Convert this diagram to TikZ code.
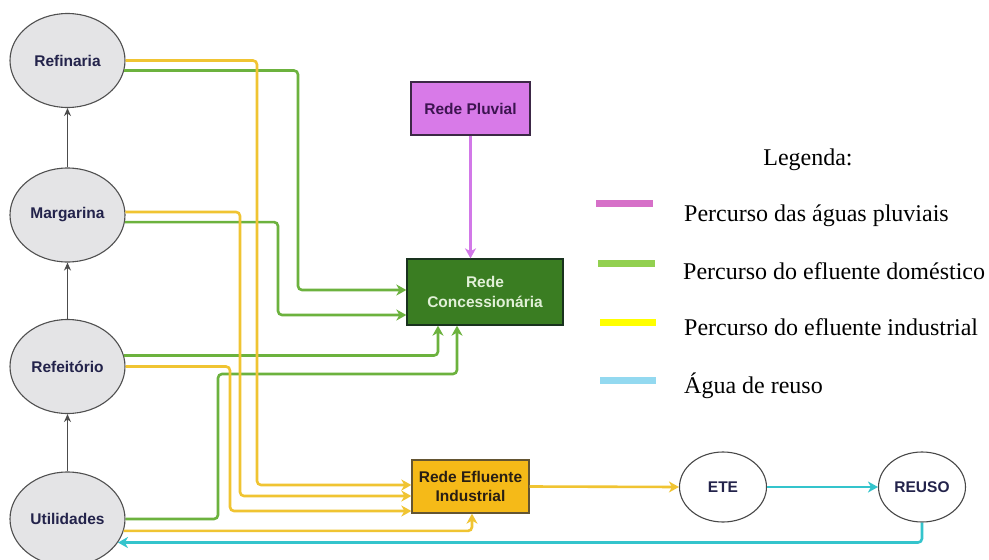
\documentclass[tikz,border=0pt]{standalone}
\usepackage{fontspec}
\setmainfont{Liberation Serif}
\newfontfamily\arialf{Liberation Sans}
\usetikzlibrary{arrows.meta,shapes.geometric,calc}
\definecolor{cyel}{RGB}{240,196,50}
\definecolor{cgrn}{RGB}{108,178,62}
\definecolor{cpnk}{RGB}{210,120,232}
\definecolor{ccyn}{RGB}{52,196,204}
\definecolor{pluvfill}{RGB}{216,122,232}
\definecolor{pluvdraw}{RGB}{60,40,70}
\definecolor{pluvtext}{RGB}{60,20,80}
\definecolor{concfill}{RGB}{58,125,34}
\definecolor{concdraw}{RGB}{25,50,30}
\definecolor{conctext}{RGB}{225,240,215}
\definecolor{eflfill}{RGB}{245,186,24}
\definecolor{efldraw}{RGB}{100,85,50}
\definecolor{efltext}{RGB}{40,30,20}
\definecolor{ellfill}{RGB}{228,228,230}
\definecolor{elldraw}{RGB}{80,80,80}
\definecolor{elltext}{RGB}{35,35,75}
\definecolor{legpnk}{RGB}{214,112,200}
\definecolor{leggrn}{RGB}{146,208,80}
\definecolor{legyel}{RGB}{255,255,0}
\definecolor{legblu}{RGB}{147,217,240}
\tikzset{
  site/.style={ellipse,draw=elldraw,line width=1.1pt,fill=ellfill,minimum width=115pt,minimum height=94pt,inner sep=0pt,font=\arialf\bfseries\fontsize{15.5}{18}\selectfont,text=elltext},
  plant/.style={ellipse,draw=elldraw!90!black,line width=1.1pt,fill=white,minimum width=87pt,minimum height=70pt,inner sep=0pt,font=\arialf\bfseries\fontsize{15.5}{18}\selectfont,text=elltext},
  boxnode/.style={rectangle,line width=1.3pt,inner sep=0pt,align=center,font=\arialf\bfseries\fontsize{15.5}{19.5}\selectfont},
  flow/.style={line width=2.6pt,rounded corners=4pt,-{Stealth[length=10pt,width=11pt,inset=3pt]}},
  ind/.style={flow,draw=cyel},
  dom/.style={flow,draw=cgrn},
  pluvl/.style={flow,draw=cpnk,line width=2.2pt},
  reusel/.style={flow,draw=ccyn},
  grayarr/.style={draw=black!70,line width=1.1pt,-{Stealth[length=8pt,width=7pt]}},
  legtext/.style={anchor=base west,inner sep=0pt,font=\fontsize{24}{28}\selectfont},
}
\begin{document}
\begin{tikzpicture}[x=1pt,y=-1pt]
\useasboundingbox (0,0) rectangle (989,560);
\clip (0,0) rectangle (989,560);
\fill[white] (0,0) rectangle (989,560);

% nodes
\node[site] (ref)  at (67.5,60.5) {Refinaria};
\node[site] (marg) at (67.5,215) {Margarina};
\node[site] (refe) at (67.5,366.5) {Refeitório};
\node[site] (util) at (67.5,519) {Utilidades};

\node[boxnode,fill=pluvfill,draw=pluvdraw,text=pluvtext,minimum width=119pt,minimum height=53pt] (pluv) at (470.5,108.5) {Rede Pluvial};
\node[boxnode,fill=concfill,draw=concdraw,text=conctext,minimum width=156pt,minimum height=66pt] (conc) at (485,292) {Rede\\Concessionária};
\node[boxnode,fill=eflfill,draw=efldraw,text=efltext,minimum width=117pt,minimum height=53pt] (efl) at (470.5,486.5) {Rede Efluente\\Industrial};

\node[plant] (ete)   at (723,487) {ETE};
\node[plant] (reuso) at (922,487) {REUSO};

% gray arrows
\draw[grayarr] (marg.north) -- (ref.south);
\draw[grayarr] (refe.north) -- (marg.south);
\draw[grayarr] (util.north) -- (refe.south);

% green (domestic)
\draw[dom] (ref.-10) -| (298,290) -- ([yshift=2pt]conc.west);
\draw[dom] (marg.-7) -| (278,315) -- ([yshift=-23pt]conc.west);
\draw[dom] (refe.11) -| ([xshift=-47pt]conc.south);
\draw[dom] (util.east) -| (218,374) -| ([xshift=-28pt]conc.south);

% yellow (industrial)
\draw[ind] (ref.east) -| (257,485) -- ([yshift=1.5pt]efl.west);
\draw[ind] (marg.3) -| (240,496) -- ([yshift=-9.5pt]efl.west);
\draw[ind] (refe.east) -| (230,511) -- ([yshift=-24.5pt]efl.west);
\draw[ind] (util.-12) -| ([xshift=1.5pt]efl.south);
\draw[ind] (efl.east) -- (ete.west);

% pink
\draw[pluvl] (pluv.south) -- (pluv.south |- conc.north);

% cyan
\draw[reusel] (ete.east) -- (reuso.west);
\draw[reusel] (reuso.south) |- (util.-25);

% legend
\node[anchor=base,inner sep=0pt,font=\fontsize{24}{28}\selectfont] (legtitle) at (808,165) {Legenda:};
\fill[legpnk] (596,200) rectangle (653,207);
\fill[leggrn] (598,260) rectangle (655,267);
\fill[legyel] (600,319) rectangle (656,326);
\fill[legblu] (600,377) rectangle (656,384);
\node[legtext] (leg1) at (684,221.5) {Percurso das águas pluviais};
\node[legtext] (leg2) at (683,279) {Percurso do efluente doméstico};
\node[legtext] (leg3) at (684,335.5) {Percurso do efluente industrial};
\node[legtext] (leg4) at (684,393) {Água de reuso};
\end{tikzpicture}
\end{document}
